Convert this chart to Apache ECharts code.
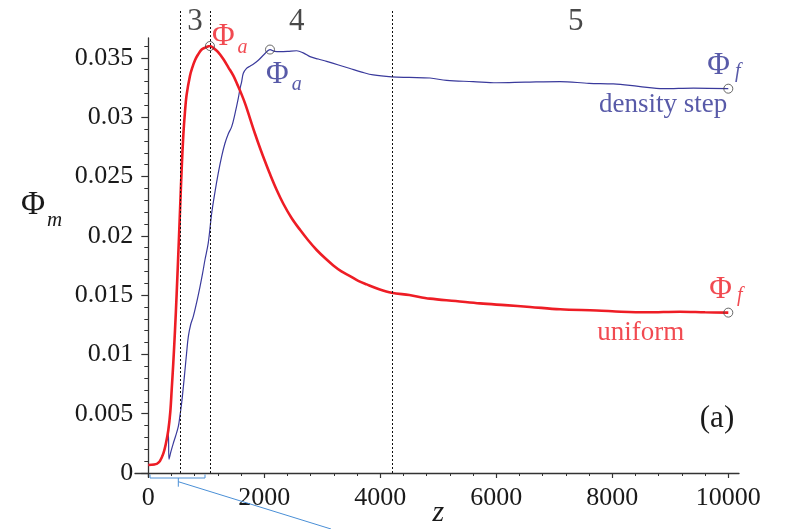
<!DOCTYPE html>
<html>
<head>
<meta charset="utf-8">
<script src="https://cdn.jsdelivr.net/npm/echarts@6/dist/echarts.min.js"></script>
<style>
  html, body { margin: 0; padding: 0; background: #ffffff; }
  #chart { width: 785px; height: 529px; }
</style>
</head>
<body>
<div id="chart"></div>
<script>
// Axial profile of Φm along z for the uniform and the density-step columns.
const zUniform = [0, 100, 150, 200, 260, 300, 345, 380, 403, 430, 460, 489, 530, 549, 575, 604, 633, 661, 719, 760,
  805, 860, 920, 990, 1063, 1130, 1200, 1293, 1380, 1466, 1540, 1610, 1680, 1753, 1840, 1926, 2010, 2098, 2210, 2328,
  2470, 2616, 2760, 2903, 3050, 3190, 3330, 3478, 3620, 3766, 3980, 4196, 4500, 4857, 5300, 5719, 6150, 6581, 7100,
  7731, 8150, 8593, 9167, 9600, 10000];
const phiUniform = [0.00067, 0.00071, 0.00078, 0.00100, 0.00166, 0.0024, 0.0036, 0.0052, 0.0070, 0.0092, 0.0120, 0.0151,
  0.0200, 0.0224, 0.0256, 0.0285, 0.0305, 0.0319, 0.0335, 0.0342, 0.0348, 0.0353, 0.0357, 0.03588, 0.0360, 0.0358,
  0.0355, 0.0349, 0.0342, 0.0335, 0.0327, 0.0319, 0.0310, 0.0299, 0.0286, 0.0274, 0.0263, 0.0252, 0.0239, 0.0227,
  0.0215, 0.0205, 0.0196, 0.0188, 0.0181, 0.0175, 0.0170, 0.0166, 0.0162, 0.0159, 0.0155, 0.0152, 0.0150, 0.0147,
  0.0145, 0.0143, 0.01415, 0.0140, 0.0138, 0.0137, 0.0136, 0.01355, 0.0136, 0.01355, 0.01352];

const zStep = [0, 100, 150, 200, 260, 300, 345, 357, 390, 431, 470, 517, 545, 575, 605, 633, 660, 690, 730, 776, 830,
  891, 935, 978, 1034, 1093, 1150, 1207, 1265, 1322, 1380, 1438, 1495, 1552, 1581, 1610, 1638, 1690, 1753, 1820, 1897,
  2000, 2098, 2180, 2270, 2400, 2558, 2680, 2788, 2930, 3075, 3280, 3478, 3680, 3879, 4196, 4500, 4857, 5144, 5600,
  6007, 6500, 7098, 7600, 8017, 8450, 8879, 9400, 10000];
const phiStep = [0.00067, 0.00071, 0.00078, 0.00100, 0.00166, 0.0024, 0.0033, 0.00115, 0.0018, 0.0025, 0.0031, 0.0039,
  0.0048, 0.0059, 0.0073, 0.0087, 0.0101, 0.0115, 0.0125, 0.0132, 0.0143, 0.0157, 0.0168, 0.0180, 0.0194, 0.0219,
  0.0237, 0.0253, 0.0267, 0.0278, 0.0286, 0.0292, 0.0303, 0.0316, 0.0324, 0.0330, 0.0337, 0.0341, 0.0343, 0.0345,
  0.0348, 0.0353, 0.0357, 0.03555, 0.03553, 0.03555, 0.0356, 0.0354, 0.0351, 0.0349, 0.0347, 0.0344, 0.0341, 0.0338,
  0.03356, 0.0334, 0.03335, 0.0333, 0.0331, 0.0330, 0.0329, 0.03295, 0.0330, 0.03285, 0.0328, 0.0326, 0.0324,
  0.03245, 0.0324];

// Region boundaries and region numbers
const boundaryZ = [550, 1060, 4200];
const regionNames = ['3', '4', '5'];
const regionZ = [805, 2560, 7370];

// Axis ranges and tick steps
const zRange = [0, 10000];
const zTickStep = 2000;
const phiMajorStep = 0.005;
const phiMinorStep = 0.001;
const phiMajorMax = 0.035;
const phiMinorMax = 0.036;

const SERIF = '"Liberation Serif", "DejaVu Serif", "Times New Roman", serif';
const RED = '#ee1d25';
const BLUE_LINE = '#3a3a9c';
const BLUE_TEXT = '#2e3192';
const INK = '#1a1a1a';

function peakIndex(arr) {
  let k = 0;
  arr.forEach((v, i) => { if (v > arr[k]) k = i; });
  return k;
}

function richFor(color) {
  return {
    p: { fontFamily: SERIF, fontSize: 31, lineHeight: 31, verticalAlign: 'top', color: color },
    sa: { fontFamily: SERIF, fontSize: 20, lineHeight: 20, fontStyle: 'italic', verticalAlign: 'top',
          padding: [16, 0, 0, 3], color: color },
    sf: { fontFamily: SERIF, fontSize: 20, lineHeight: 20, fontStyle: 'italic', verticalAlign: 'top',
          padding: [12, 0, 0, 5], color: color }
  };
}

function markerSeries(zs, phis, color, offA, offF) {
  const ia = peakIndex(phis);
  const iF = phis.length - 1;
  return {
    type: 'scatter', xAxisIndex: 1, yAxisIndex: 1, z: 5,
    symbol: 'circle', symbolSize: 9,
    itemStyle: { color: 'rgba(0,0,0,0)', borderColor: '#444', borderWidth: 1 },
    label: {
      show: true, position: 'inside', align: 'left', verticalAlign: 'middle',
      color: color, textBorderWidth: 0, rich: richFor(color)
    },
    emphasis: { disabled: true },
    data: [
      { value: [zs[ia], phis[ia]], label: { formatter: '{p|Φ}{sa|a}', offset: offA } },
      { value: [zs[iF], phis[iF]], label: { formatter: '{p|Φ}{sf|f}', offset: offF } }
    ]
  };
}

function nameSeries(zs, phis, text, color, offset) {
  const iF = phis.length - 1;
  return {
    type: 'scatter', xAxisIndex: 1, yAxisIndex: 1, symbolSize: 0, z: 5,
    label: {
      show: true, position: 'inside', align: 'right', verticalAlign: 'middle', offset: offset,
      formatter: text, fontFamily: SERIF, fontSize: 27, color: color, textBorderWidth: 0
    },
    emphasis: { disabled: true },
    data: [[zs[iF], phis[iF]]]
  };
}

const hiddenAxis = { show: false };
const fixedGrid = { containLabel: false, outerBoundsMode: 'none' };

const option = {
  animation: false,
  backgroundColor: '#ffffff',
  grid: [
    // frame: carries the two axis lines, which run a little past the origin
    Object.assign({ left: 135, right: 46, top: 38, bottom: 52 }, fixedGrid),
    // plot area: z 0..10000, Φ 0..0.036
    Object.assign({ left: 148.3, right: 56.7, top: 46.0, bottom: 56 }, fixedGrid),
    // major Φ ticks and labels, 0..0.035
    Object.assign({ left: 148.3, right: 56.7, top: 57.9, bottom: 56 }, fixedGrid),
    // region boundaries reaching the top of the figure
    Object.assign({ left: 148.3, right: 56.7, top: 9, bottom: 56 }, fixedGrid)
  ],
  xAxis: [
    { gridIndex: 0, type: 'value', min: -230, max: 10190,
      axisLine: { show: true, onZero: true, lineStyle: { color: '#333', width: 1.3 } },
      axisTick: { show: false }, axisLabel: { show: false }, splitLine: { show: false } },
    { gridIndex: 1, type: 'value', min: zRange[0], max: zRange[1], interval: zTickStep,
      axisLine: { show: false },
      axisTick: { show: true, length: 5, lineStyle: { color: '#333', width: 1.2 } },
      minorTick: { show: true, splitNumber: 5, length: 3, lineStyle: { color: '#333', width: 1 } },
      splitLine: { show: false }, minorSplitLine: { show: false },
      axisLabel: { show: true, margin: 12, fontFamily: SERIF, fontSize: 26, color: INK,
                   formatter: v => String(v) },
      name: 'z', nameLocation: 'middle', nameGap: 25, nameMoveOverlap: false,
      nameTextStyle: { fontFamily: SERIF, fontSize: 30, fontStyle: 'italic', color: INK } },
    Object.assign({ gridIndex: 2, type: 'value', min: zRange[0], max: zRange[1] }, hiddenAxis),
    Object.assign({ gridIndex: 3, type: 'value', min: zRange[0], max: zRange[1] }, hiddenAxis)
  ],
  yAxis: [
    { gridIndex: 0, type: 'value', min: -0.00034, max: 0.03668,
      axisLine: { show: true, onZero: true, lineStyle: { color: '#333', width: 1.3 } },
      axisTick: { show: false }, axisLabel: { show: false }, splitLine: { show: false } },
    { gridIndex: 1, type: 'value', min: 0, max: phiMinorMax, interval: phiMinorStep,
      axisLine: { show: false },
      axisTick: { show: true, length: 4, lineStyle: { color: '#333', width: 1 } },
      axisLabel: { show: false }, splitLine: { show: false } },
    { gridIndex: 2, type: 'value', min: 0, max: phiMajorMax, interval: phiMajorStep,
      axisLine: { show: false },
      axisTick: { show: true, length: 7, lineStyle: { color: '#333', width: 1.2 } },
      axisLabel: { show: true, margin: 15, fontFamily: SERIF, fontSize: 26, color: INK },
      splitLine: { show: false } },
    Object.assign({ gridIndex: 3, type: 'value', min: 0, max: 1 }, hiddenAxis)
  ],
  series: [
    {
      name: 'density step', type: 'line', xAxisIndex: 1, yAxisIndex: 1, z: 2,
      data: zStep.map((z, i) => [z, phiStep[i]]),
      showSymbol: false, smooth: 0.35,
      lineStyle: { color: BLUE_LINE, width: 1.2 }
    },
    {
      name: 'uniform', type: 'line', xAxisIndex: 1, yAxisIndex: 1, z: 3,
      data: zUniform.map((z, i) => [z, phiUniform[i]]),
      showSymbol: false, smooth: 0.35,
      lineStyle: { color: RED, width: 2.6 }
    },
    markerSeries(zUniform, phiUniform, RED, [2, -9], [-19, -23]),
    markerSeries(zStep, phiStep, BLUE_TEXT, [-4, 25], [-21, -23]),
    nameSeries(zStep, phiStep, 'density step', BLUE_TEXT, [-1, 16]),
    nameSeries(zUniform, phiUniform, 'uniform', RED, [-44, 20]),
    {
      type: 'scatter', xAxisIndex: 3, yAxisIndex: 3, symbolSize: 0, z: 4,
      label: {
        show: true, position: 'inside', formatter: p => p.data[2],
        fontFamily: SERIF, fontSize: 31, color: INK, textBorderWidth: 0
      },
      emphasis: { disabled: true },
      data: regionZ.map((z, i) => [z, 0.972, regionNames[i]]),
      markLine: {
        silent: true, symbol: 'none', label: { show: false },
        lineStyle: { color: '#111', type: [2, 2], width: 1 },
        data: boundaryZ.map(z => ({ xAxis: z }))
      }
    }
  ],
  graphic: [
    {
      type: 'text', left: 21, top: 189, z: 10,
      style: {
        text: '{p|Φ}{m|m}',
        rich: {
          p: { fontFamily: SERIF, fontSize: 33, lineHeight: 33, verticalAlign: 'top', fill: INK },
          m: { fontFamily: SERIF, fontSize: 21, lineHeight: 21, fontStyle: 'italic', verticalAlign: 'top',
               padding: [21, 0, 0, 2], fill: INK }
        }
      }
    },
    {
      type: 'text', x: 717, y: 419, z: 10,
      style: { text: '(a)', fontFamily: SERIF, fontSize: 31, fill: INK, align: 'center', verticalAlign: 'middle' }
    },
    {
      type: 'polyline', z: 10, silent: true,
      shape: { points: [[150, 474.5], [150, 478], [205, 478], [205, 474.5]] },
      style: { stroke: '#4a8fd6', lineWidth: 1, fill: null }
    },
    {
      type: 'polyline', z: 10, silent: true,
      shape: { points: [[178.3, 478], [178.3, 486.7]] },
      style: { stroke: '#4a8fd6', lineWidth: 1, fill: null }
    },
    {
      type: 'line', z: 10, silent: true,
      shape: { x1: 178.3, y1: 481.7, x2: 331, y2: 529 },
      style: { stroke: '#4a8fd6', lineWidth: 1 }
    }
  ]
};

const chart = echarts.init(document.getElementById('chart'), null, { renderer: 'canvas' });
chart.setOption(option);
</script>
</body>
</html>
